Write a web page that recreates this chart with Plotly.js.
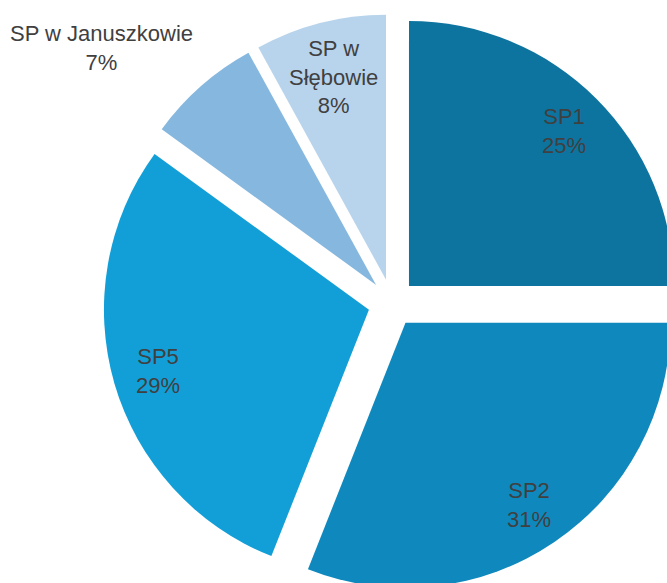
<!DOCTYPE html>
<html>
<head>
<meta charset="utf-8">
<script src="https://cdn.plot.ly/plotly-3.0.1.min.js"></script>
<style>
  html, body { margin: 0; padding: 0; overflow: hidden; background: #ffffff; }
  #chart { width: 784px; height: 592px; }
</style>
</head>
<body>
<div id="chart"></div>
<script>
// ---- Data ----
const labels = ["SP1", "SP2", "SP5", "SP w Januszkowie", "SP w Słębowie"];
const values = [25, 31, 29, 7, 8];
const labelText = ["SP1", "SP2", "SP5", "SP w Januszkowie", "SP w<br>Słębowie"];

// ---- Styles ----
const colors = ["#0d74a0", "#0f89bd", "#129fd7", "#86b8df", "#b8d4ec"];
const textColor = "#404040";
const fontFamily = "Liberation Sans, Arial, sans-serif";
const fontSize = 22;
const pull = 0.0906;
const labelRadius = [0.83, 0.83, 0.83, 1.0, 0.79]; // fraction of radius from slice apex
const outsideIdx = 3;

const W = 784, H = 592;
const margin = { l: 0, r: 0, t: 14, b: 0 };
const pw = W - margin.l - margin.r;
const ph = H - margin.t - margin.b;
const cx = margin.l + pw / 2;
const cy = margin.t + ph / 2;
const R = Math.min(pw, ph) / (2 + 2 * pull);

const total = values.reduce((a, b) => a + b, 0);
const annotations = [];
let cum = 0;
values.forEach((v, i) => {
  const mid = (cum + v / 2) / total * 2 * Math.PI; // clockwise from 12 o'clock
  cum += v;
  const dx = Math.sin(mid), dy = -Math.cos(mid);
  const apexX = cx + pull * R * dx, apexY = cy + pull * R * dy;
  const px = apexX + labelRadius[i] * R * dx;
  const py = apexY + labelRadius[i] * R * dy;
  const pct = Math.round(v / total * 100) + "%";
  const ann = {
    x: (px - margin.l) / pw,
    y: 1 - (py - margin.t) / ph,
    xref: "paper", yref: "paper",
    text: labelText[i] + "<br>" + pct,
    showarrow: false,
    font: { family: fontFamily, size: fontSize, color: textColor },
    align: "center",
    xanchor: "center", yanchor: "middle"
  };
  if (i === outsideIdx) {
    ann.xanchor = "right";
    ann.yanchor = "bottom";
    ann.xshift = -6;
    ann.yshift = 9;
  }
  annotations.push(ann);
});

const trace = {
  type: "pie",
  labels: labels,
  values: values,
  sort: false,
  direction: "clockwise",
  rotation: 0,
  pull: pull,
  textinfo: "none",
  hoverinfo: "label+percent",
  marker: { colors: colors, line: { width: 0 } },
  showlegend: false
};

const layout = {
  width: W,
  height: H,
  margin: margin,
  showlegend: false,
  paper_bgcolor: "#ffffff",
  plot_bgcolor: "#ffffff",
  annotations: annotations
};

Plotly.newPlot("chart", [trace], layout, { displayModeBar: false, staticPlot: true });
</script>
</body>
</html>
